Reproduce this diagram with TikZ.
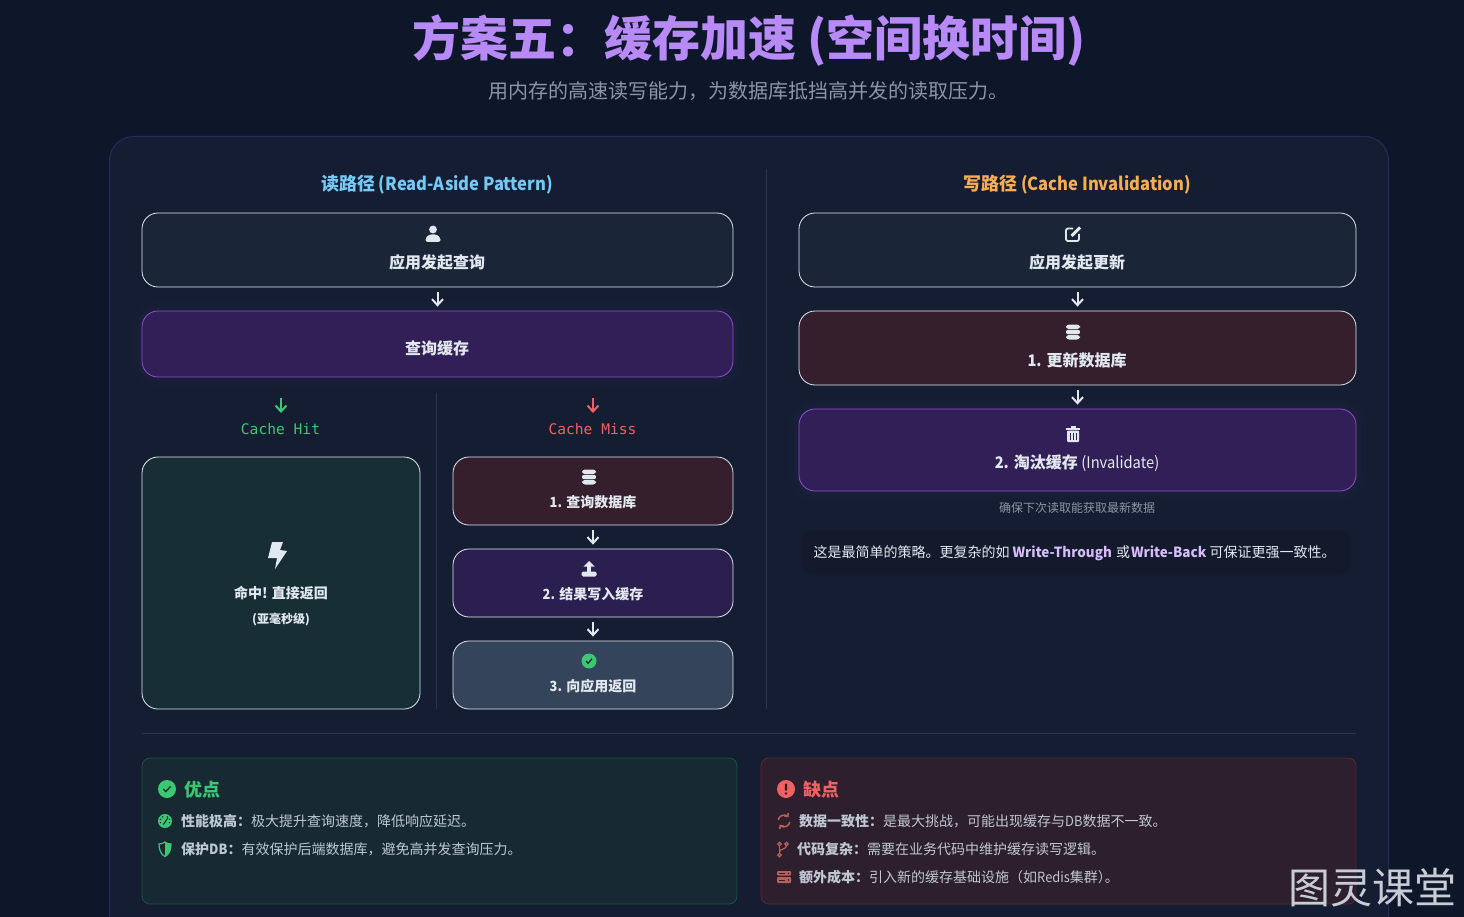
\documentclass[tikz,border=0pt]{standalone}
\usepackage{fontspec}
\setmainfont{Noto Sans CJK SC}
\newfontfamily\codefont{DejaVu Sans Mono}
\newfontfamily\lat[FakeStretch=0.92]{Noto Sans CJK SC}
\newfontfamily\latwide[FakeStretch=0.96]{Noto Sans CJK SC}
\usepackage{xcolor}
\usepackage{tikz}
\usetikzlibrary{arrows.meta}
\definecolor{PageBg}{RGB}{14,23,42}
\definecolor{PanelBg}{RGB}{20,29,50}
\definecolor{PanelLine}{RGB}{46,38,92}
\definecolor{SepLine}{RGB}{42,53,71}
\definecolor{BoxLine}{RGB}{226,232,240}
\definecolor{BoxText}{RGB}{226,232,240}
\definecolor{AppFill}{RGB}{26,38,55}
\definecolor{CacheFill}{RGB}{50,31,88}
\definecolor{CacheLine}{RGB}{139,79,208}
\definecolor{DbFill}{RGB}{54,31,45}
\definecolor{FillFill}{RGB}{43,31,79}
\definecolor{BackFill}{RGB}{52,68,90}
\definecolor{HitFill}{RGB}{23,46,53}
\definecolor{TitlePurple}{RGB}{183,138,247}
\definecolor{SubGray}{RGB}{139,149,165}
\definecolor{ReadBlue}{RGB}{118,200,245}
\definecolor{WriteOrange}{RGB}{246,173,85}
\definecolor{GoodGreen}{RGB}{60,200,115}
\definecolor{BadRed}{RGB}{240,98,98}
\definecolor{MarkPurple}{RGB}{214,188,250}
\definecolor{NoteFill}{RGB}{18,26,44}
\definecolor{ProFill}{RGB}{23,42,51}
\definecolor{ProLine}{RGB}{24,84,60}
\definecolor{ConFill}{RGB}{45,31,46}
\definecolor{ConLine}{RGB}{96,36,50}
\definecolor{ItemText}{RGB}{190,199,210}
\definecolor{ConIcon}{RGB}{184,96,90}
\definecolor{MarkText}{RGB}{200,205,213}

\begin{document}
\begin{tikzpicture}[
  x=1pt,y=-1pt,
  stepbox/.style={
    draw=BoxLine,
    rounded corners=16pt,
    minimum width=#1,
    inner sep=0pt,
    line width=0.8pt
  },
  cachebox/.style={
    stepbox=#1,
    draw=CacheLine,
    preaction={draw=CacheLine, line width=20pt, draw opacity=0.025},
    preaction={draw=CacheLine, line width=10pt, draw opacity=0.03}
  },
  steplabel/.style={font=\fontsize{16}{19}\selectfont\bfseries, text=BoxText, inner sep=0pt},
  smalllabel/.style={font=\fontsize{14}{17}\selectfont\bfseries, text=BoxText, inner sep=0pt},
  flow/.style={-{Straight Barb[length=6pt,width=11pt]}, line width=2pt, draw=BoxLine, shorten <=5pt, shorten >=4pt},
  branchflow/.style={-{Straight Barb[length=6pt,width=11pt]}, line width=2pt},
  coltitle/.style={font=\fontsize{18}{22}\selectfont\bfseries, inner sep=0pt},
  codelabel/.style={font=\fontsize{14.6}{17}\selectfont\codefont, inner sep=0pt},
  sideline/.style={draw=SepLine, line width=1pt},
  sumbox/.style={rounded corners=8pt, line width=0.8pt, minimum width=595pt, minimum height=146pt, inner sep=0pt},
  sumhead/.style={anchor=west, font=\fontsize{18}{22}\selectfont\bfseries, inner sep=0pt},
  sumitem/.style={anchor=west, font=\fontsize{14}{17}\selectfont, text=ItemText, inner sep=0pt},
  person/.pic={
    \fill (0,-4.5) circle (3.9);
    \fill[rounded corners=2.5pt] (-7.5,8) -- (-7.5,4) -- (-4,0.5) -- (4,0.5) -- (7.5,4) -- (7.5,8) -- cycle;
  },
  dbicon/.pic={
    \fill[rounded corners=3pt] (-7,-7.5) rectangle (7,-2.9);
    \fill[rounded corners=2pt] (-7,-2.2) rectangle (7,2.2);
    \fill[rounded corners=3pt] (-7,2.9) rectangle (7,7.5);
  },
  editicon/.pic={
    \draw[line width=1.8pt, rounded corners=2pt] (6,0) -- (6,7) -- (-7,7) -- (-7,-5.5) -- (0,-5.5);
    \draw[line width=3pt] (-1.5,2) -- (7,-6.5);
  },
  trashicon/.pic={
    \fill (-7,-6.5) rectangle (7,-4.5);
    \fill (-2.5,-8) rectangle (2.5,-6);
    \fill[rounded corners=1pt] (-6,-3.5) rectangle (6,8);
    \foreach \u in {-3,0,3} \fill[CacheFill] (\u-0.5,-1.5) rectangle (\u+0.5,6);
  },
  bolticon/.pic={
    \fill (-5,-13) -- (6,-13) -- (3,-5) -- (10,-4) -- (-2,14) -- (0,3) -- (-9,3) -- cycle;
  },
  uploadicon/.pic={
    \fill (0,-8) -- (-5.5,-2.5) -- (5.5,-2.5) -- cycle;
    \fill (-1.6,-3) rectangle (1.6,4);
    \fill[rounded corners=1.5pt] (-7.5,2.5) rectangle (7.5,7.5);
  },
  checkicon/.pic={
    \fill[GoodGreen] (0,0) circle (7.5);
    \draw[line width=1.2pt, draw=PanelBg] (-3,0) -- (-1,2.2) -- (3,-2.2);
  },
  gaugeicon/.pic={
    \fill[GoodGreen] (0,0) circle (7);
    \draw[line width=1.1pt, draw=ProFill] (-1.5,3.5) -- (3,-3.5);
    \foreach \u in {-160,-120,-60,-20,20,160} \fill[ProFill] (\u:4.8) circle (0.8);
  },
  shieldicon/.pic={
    \draw[line width=1.2pt, draw=GoodGreen] (0,-7) .. controls (2,-5.5) and (4,-5) .. (6,-5) .. controls (6,1) and (4,5.5) .. (0,7.5) .. controls (-4,5.5) and (-6,1) .. (-6,-5) .. controls (-4,-5) and (-2,-5.5) .. (0,-7) -- cycle;
    \fill[GoodGreen] (0,-7) .. controls (2,-5.5) and (4,-5) .. (6,-5) .. controls (6,1) and (4,5.5) .. (0,7.5) -- cycle;
  },
  syncicon/.pic={
    \draw[line width=1.5pt, -{Straight Barb[length=2.5pt,width=5pt]}] (-5.8,-1) arc[start angle=190, end angle=320, radius=5.9];
    \draw[line width=1.5pt, -{Straight Barb[length=2.5pt,width=5pt]}] (5.8,1) arc[start angle=10, end angle=140, radius=5.9];
  },
  branchicon/.pic={
    \draw[line width=1.2pt] (-3.5,-5) circle (1.8) (-3.5,6) circle (1.8) (3.5,-5) circle (1.8);
    \draw[line width=1.2pt] (-3.5,-3.2) -- (-3.5,4.2);
    \draw[line width=1.2pt] (3.5,-3.2) .. controls (3.5,0.5) and (-3.5,-0.5) .. (-3.5,3);
  },
  servericon/.pic={
    \fill[rounded corners=1pt] (-7,-6) rectangle (7,-1.5);
    \fill[rounded corners=1pt] (-7,0) rectangle (7,6);
    \draw[ConFill, line width=0.9pt] (-5,-3.7) -- (1,-3.7) (-5,3) -- (1,3);
    \fill[ConFill] (4.5,-3.7) circle (0.8) (4.5,3) circle (0.8);
  }
]
\clip (0,0) rectangle (1464,917);
\fill[PageBg] (0,0) rectangle (1464,917);
\draw[PanelLine, fill=PanelBg, line width=1pt, rounded corners=24pt] (109.5,136.5) rectangle (1388.5,960);

% heading
\node[font=\fontsize{48}{56}\selectfont\bfseries, text=TitlePurple, inner sep=0pt] (maintitle) at (749,40) {方案五：缓存加速 (空间换时间)};
\node[font=\fontsize{20}{24}\selectfont, text=SubGray, inner sep=0pt] (subtitle) at (748,91) {用内存的高速读写能力，为数据库抵挡高并发的读取压力。};

\draw[sideline] (766,169) -- (766,709);
\draw[sideline] (436.5,393) -- (436.5,709);
\draw[sideline] (142,733.5) -- (1356,733.5);

% read path
\node[coltitle, text=ReadBlue] (readtitle) at (437,185) {读路径{\lat\ (Read-Aside Pattern)}};
\node[stepbox=591pt, fill=AppFill, minimum height=74pt] (appquery) at (437.5,250) {};
\pic[BoxText] at (433,234) {person};
\node[steplabel] (appquerytext) at (437,262) {应用发起查询};
\node[cachebox=591pt, fill=CacheFill, minimum height=66pt] (cachequery) at (437.5,344) {};
\node[steplabel] (cachequerytext) at (437,348) {查询缓存};

\coordinate (hitstart) at (281,398);
\coordinate (hitend) at (281,413);
\coordinate (missstart) at (593,398);
\coordinate (missend) at (593,413);
\draw[branchflow, draw=GoodGreen] (hitstart) -- (hitend);
\draw[branchflow, draw=BadRed] (missstart) -- (missend);
\node[codelabel, text=GoodGreen] (hitlabel) at (280.5,429) {Cache Hit};
\node[codelabel, text=BadRed] (misslabel) at (592.5,429) {Cache Miss};

\node[stepbox=278pt, fill=HitFill, minimum height=252pt] (hitbox) at (281,583) {};
\pic[BoxText] at (277,555) {bolticon};
\node[smalllabel] (hittext) at (281,593) {命中! 直接返回};
\node[font=\fontsize{12}{15}\selectfont\bfseries, text=BoxText, inner sep=0pt] (hitnote) at (281,620) {(亚毫秒级)};

\node[stepbox=280pt, fill=DbFill, minimum height=68pt] (missdb) at (593,491) {};
\pic[BoxText] at (589,477) {dbicon};
\node[smalllabel] (missdbtext) at (593,502) {{\lat 1.} 查询数据库};
\node[stepbox=280pt, fill=FillFill, minimum height=68pt] (missfill) at (593,583) {};
\pic[BoxText] at (589,569) {uploadicon};
\node[smalllabel] (missfilltext) at (593,594) {{\lat 2.} 结果写入缓存};
\node[stepbox=280pt, fill=BackFill, minimum height=68pt] (missback) at (593,675) {};
\pic at (589,661) {checkicon};
\node[smalllabel] (missbacktext) at (593,686) {{\lat 3.} 向应用返回};

% write path
\node[coltitle, text=WriteOrange] (writetitle) at (1077,185) {写路径{\lat\ (Cache Invalidation)}};
\node[stepbox=557pt, fill=AppFill, minimum height=74pt] (appupdate) at (1077.5,250) {};
\pic[BoxText] at (1073,234) {editicon};
\node[steplabel] (appupdatetext) at (1077,262) {应用发起更新};
\node[stepbox=557pt, fill=DbFill, minimum height=74pt] (dbupdate) at (1077.5,348) {};
\pic[BoxText] at (1073,332) {dbicon};
\node[steplabel] (dbupdatetext) at (1077,360) {{\lat 1.} 更新数据库};
\node[cachebox=557pt, fill=CacheFill, minimum height=82pt] (cachedrop) at (1077.5,450) {};
\pic[BoxText] at (1073,434) {trashicon};
\node[steplabel] (cachedroptext) at (1077,463) {{\lat 2.} 淘汰缓存 {\lat\mdseries (Invalidate)}};
\node[font=\fontsize{12}{15}\selectfont, text=SubGray, inner sep=0pt] (dropnote) at (1077,508) {确保下次读取能获取最新数据};
\node[fill=NoteFill, rounded corners=12pt, minimum width=549pt, minimum height=45pt, inner sep=0pt] (notebox) at (1076.5,552.5) {};
\node[font=\fontsize{14}{17}\selectfont, text=BoxText, inner sep=0pt] (notetext) at (1074.5,553.5) {这是最简单的策略。更复杂的如 {\latwide\bfseries\color{MarkPurple}Write-Through} \kern1pt或\kern1pt {\latwide\bfseries\color{MarkPurple}Write-Back} 可保证更强一致性。};

\foreach \a/\b in {appquery/cachequery,missdb/missfill,missfill/missback,appupdate/dbupdate,dbupdate/cachedrop}
  \draw[flow] (\a) -- (\b);

% summary
\node[sumbox, draw=ProLine, fill=ProFill] (probox) at (439.5,831) {};
\pic[scale=1.2] at (167,789) {checkicon};
\node[sumhead, text=GoodGreen] (prohead) at (184,790) {优点};
\pic at (165,821) {gaugeicon};
\node[sumitem] (proone) at (181,821) {\textbf{性能极高：}极大提升查询速度，降低响应延迟。};
\pic at (165,849) {shieldicon};
\node[sumitem] (protwo) at (181,849) {\textbf{保护{\lat DB}：}有效保护后端数据库，避免高并发查询压力。};

\node[sumbox, draw=ConLine, fill=ConFill] (conbox) at (1058.5,831) {};
\fill[BadRed] (786,789) circle (9);
\fill[ConFill, rounded corners=0.6pt] (784.8,783.5) rectangle (787.2,790.5);
\fill[ConFill] (786,793.5) circle (1.4);
\node[sumhead, text=BadRed] (conhead) at (803,790) {缺点};
\pic[ConIcon] at (784,821) {syncicon};
\node[sumitem] (conone) at (799,821) {\textbf{数据一致性：}是最大挑战，可能出现缓存与{\lat DB}数据不一致。};
\pic[ConIcon] at (783,849) {branchicon};
\node[sumitem] (contwo) at (797,849) {\textbf{代码复杂：}需要在业务代码中维护缓存读写逻辑。};
\pic[ConIcon] at (784,877) {servericon};
\node[sumitem] (conthree) at (799,877) {\textbf{额外成本：}引入新的缓存基础设施（如{\lat Redis}集群）\kern-7pt 。};

\node[font=\fontsize{42}{48}\selectfont, text=MarkText, inner sep=0pt] (watermark) at (1372.5,888) {图灵课堂};
\end{tikzpicture}
\end{document}
